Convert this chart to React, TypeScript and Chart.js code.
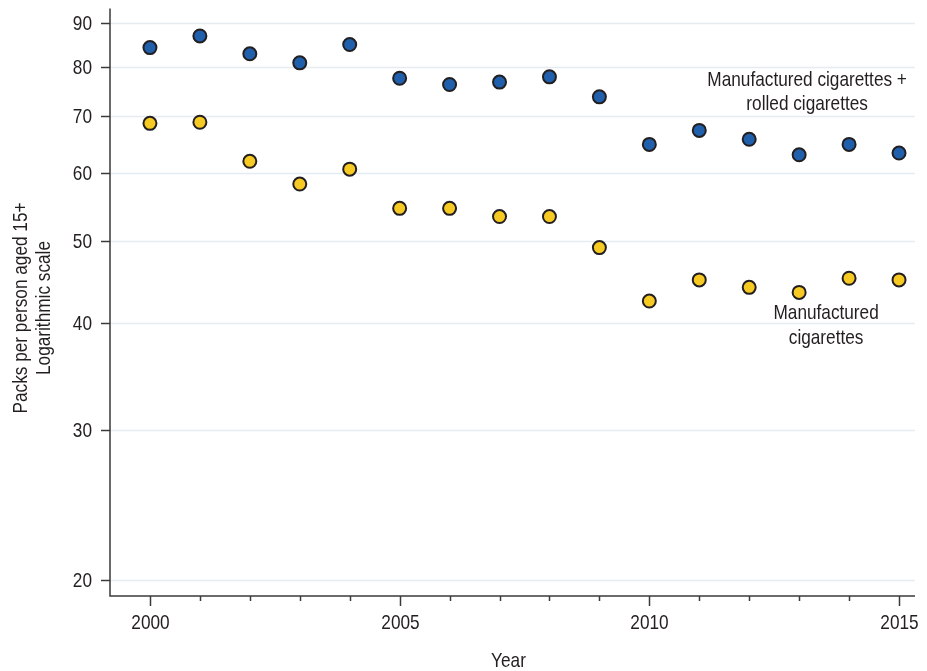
import React, { useEffect, useRef } from "react";
import { Chart, registerables } from "chart.js";

Chart.register(...registerables);

// Consumption per person aged 15+, packs per year
const years = [2000, 2001, 2002, 2003, 2004, 2005, 2006, 2007, 2008, 2009, 2010, 2011, 2012, 2013, 2014, 2015];
const totalPacks = [84.3, 87.0, 82.9, 80.9, 85.0, 77.6, 76.3, 76.8, 77.9, 73.8, 64.9, 67.4, 65.8, 63.1, 64.9, 63.4];
const manufacturedPacks = [68.7, 68.9, 62.0, 58.3, 60.7, 54.6, 54.6, 53.4, 53.4, 49.1, 42.5, 45.0, 44.1, 43.5, 45.2, 45.0];

const yTicks = [20, 30, 40, 50, 60, 70, 80, 90];
const xMajorTicks = [2000, 2005, 2010, 2015];
const xMinorTicks = [2001, 2002, 2003, 2004, 2006, 2007, 2008, 2009, 2011, 2012, 2013, 2014];

const FONT = '21px "Liberation Sans", Arial, sans-serif';
const NARROW = 0.82;
const TEXT = "#231f20";
const AXIS = "#3a3a3a";
const GRID = "#e4ecf2";

// Condensed text: regular sans squeezed horizontally around its anchor
function narrowText(ctx: CanvasRenderingContext2D, text: string, x: number, y: number, align: CanvasTextAlign) {
  ctx.save();
  ctx.translate(x, y);
  ctx.scale(NARROW, 1);
  ctx.textAlign = align;
  ctx.fillText(text, 0, 0);
  ctx.restore();
}

// Draws grid, axes, ticks, labels and annotations from the chart's scales
const frame = {
  id: "frame",
  beforeDatasetsDraw(chart: any) {
    const { ctx, chartArea, scales } = chart;
    const x = scales.x;
    const y = scales.y;
    const left = chartArea.left;
    const right = chartArea.right;
    const top = chartArea.top;
    const bottom = chartArea.bottom;
    ctx.save();

    // horizontal grid
    ctx.strokeStyle = GRID;
    ctx.lineWidth = 1.5;
    yTicks.forEach((v) => {
      const py = Math.round(y.getPixelForValue(v)) + 0.5;
      ctx.beginPath();
      ctx.moveTo(left, py);
      ctx.lineTo(right, py);
      ctx.stroke();
    });

    // axis lines
    ctx.strokeStyle = AXIS;
    ctx.lineWidth = 1.5;
    ctx.beginPath();
    ctx.moveTo(left, top);
    ctx.lineTo(left, bottom);
    ctx.lineTo(right, bottom);
    ctx.stroke();

    ctx.fillStyle = TEXT;
    ctx.font = FONT;
    ctx.textBaseline = "middle";

    // y ticks and labels
    yTicks.forEach((v) => {
      const py = Math.round(y.getPixelForValue(v)) + 0.5;
      ctx.beginPath();
      ctx.moveTo(left - 9, py);
      ctx.lineTo(left, py);
      ctx.stroke();
      narrowText(ctx, String(v), left - 18, py + 1, "right");
    });

    // x ticks and labels
    xMajorTicks.forEach((v) => {
      const px = Math.round(x.getPixelForValue(v)) + 0.5;
      ctx.beginPath();
      ctx.moveTo(px, bottom);
      ctx.lineTo(px, bottom + 10);
      ctx.stroke();
      narrowText(ctx, String(v), px, bottom + 27, "center");
    });
    xMinorTicks.forEach((v) => {
      const px = Math.round(x.getPixelForValue(v)) + 0.5;
      ctx.beginPath();
      ctx.moveTo(px, bottom);
      ctx.lineTo(px, bottom + 5);
      ctx.stroke();
    });

    // axis titles
    narrowText(ctx, "Year", (left + right) / 2 - 4, bottom + 65, "center");

    ctx.save();
    ctx.translate(0, 308);
    ctx.rotate(-Math.PI / 2);
    // after rotation, local x runs up the page and local y runs right
    ctx.save();
    ctx.translate(0, 21);
    ctx.scale(NARROW, 1);
    ctx.textAlign = "center";
    ctx.fillText("Packs per person aged 15+", 0, 0);
    ctx.restore();
    ctx.save();
    ctx.translate(0, 44);
    ctx.scale(NARROW, 1);
    ctx.textAlign = "center";
    ctx.fillText("Logarithmic scale", 0, 0);
    ctx.restore();
    ctx.restore();

    // series annotations
    const ax1 = x.getPixelForValue(2013.16);
    const ay1 = y.getPixelForValue(77.2);
    narrowText(ctx, "Manufactured cigarettes +", ax1, ay1, "center");
    narrowText(ctx, "rolled cigarettes", ax1, ay1 + 24, "center");

    const ax2 = x.getPixelForValue(2013.54);
    const ay2 = y.getPixelForValue(41.1);
    narrowText(ctx, "Manufactured", ax2, ay2, "center");
    narrowText(ctx, "cigarettes", ax2, ay2 + 25, "center");

    ctx.restore();
  },
};

export default function App() {
  const canvasRef = useRef<HTMLCanvasElement | null>(null);

  useEffect(() => {
    if (!canvasRef.current) return;
    const chart = new Chart(canvasRef.current, {
      type: "scatter",
      data: {
        datasets: [
          {
            label: "Manufactured cigarettes + rolled cigarettes",
            data: years.map((yr, i) => ({ x: yr, y: totalPacks[i] })),
            backgroundColor: "#1f5fab",
            borderColor: "#231f20",
            borderWidth: 2,
            pointRadius: 6.5,
            pointHoverRadius: 6.5,
          },
          {
            label: "Manufactured cigarettes",
            data: years.map((yr, i) => ({ x: yr, y: manufacturedPacks[i] })),
            backgroundColor: "#f6c923",
            borderColor: "#231f20",
            borderWidth: 2,
            pointRadius: 6.5,
            pointHoverRadius: 6.5,
          },
        ],
      },
      options: {
        responsive: false,
        animation: false,
        events: [],
        layout: { padding: { left: 110, right: 12, top: 8, bottom: 75 } },
        plugins: { legend: { display: false }, tooltip: { enabled: false } },
        scales: {
          x: { type: "linear", min: 1999.2, max: 2015.32, display: false },
          y: { type: "logarithmic", min: 19.15, max: 93.7, display: false },
        },
      },
      plugins: [frame],
    });
    return () => chart.destroy();
  }, []);

  return (
    <div style={{ position: "fixed", left: 0, top: 0, width: 927, height: 671, background: "#fff" }}>
      <canvas ref={canvasRef} width={927} height={671} style={{ display: "block" }} />
    </div>
  );
}
